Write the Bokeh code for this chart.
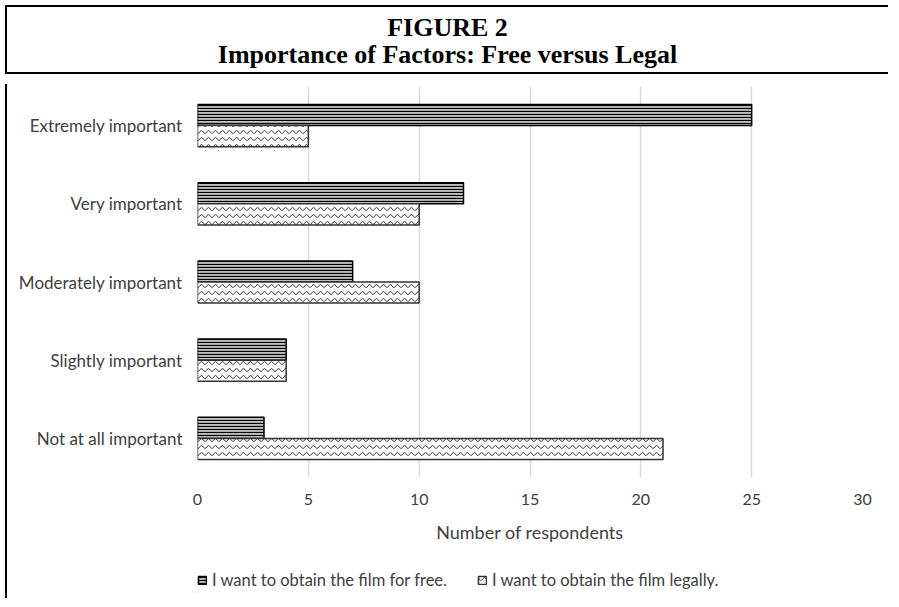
from bokeh.plotting import figure
from bokeh.models import ColumnDataSource, Div, Legend, LegendItem, FactorRange, FixedTicker
from bokeh.transform import dodge
from bokeh.layouts import column, row
from bokeh.embed import file_html
from bokeh.resources import INLINE

categories = ["Extremely important", "Very important", "Moderately important",
              "Slightly important", "Not at all important"]
free_values = [25, 12, 7, 4, 3]
legal_values = [5, 10, 10, 4, 21]
x_ticks = [0, 5, 10, 15, 20, 25, 30]
series_names = ["I want to obtain the film for free.", "I want to obtain the film legally."]
title_lines = ["FIGURE 2", "Importance of Factors: Free versus Legal"]
x_axis_title = "Number of respondents"

factors = list(reversed(categories))
source = ColumnDataSource(dict(cat=categories, free=free_values, legal=legal_values))

LABEL_FONT = "Lato"
LABEL_COLOR = "#404040"

FREE_STYLE = dict(fill_color="#bdbdbd", line_color="#000000", line_width=1.5,
                  hatch_pattern="horizontal_line", hatch_color="#000000", hatch_scale=3.0,
                  hatch_weight=1.2)
LEGAL_STYLE = dict(fill_color="#ffffff", line_color="#333333", line_width=1.5,
                   hatch_pattern="horizontal_wave", hatch_color="#333333", hatch_scale=7,
                   hatch_weight=1)

title_div = Div(
    text="<br>".join(title_lines),
    width=883, height=69,
    styles={
        "box-sizing": "border-box",
        "border-top": "2px solid #000",
        "border-bottom": "2px solid #000",
        "border-left": "2px solid #000",
        "text-align": "center",
        "font-family": "'Liberation Serif', 'Times New Roman', serif",
        "font-weight": "bold",
        "font-size": "26px",
        "line-height": "27px",
        "padding-top": "7px",
        "color": "#000",
    },
)

MAIN_H = 470
LEG_H = 44

p = figure(width=881, height=MAIN_H, y_range=FactorRange(factors=factors), x_range=(0, 30),
           output_backend="svg", toolbar_location=None,
           min_border_left=185, min_border_right=31, min_border_top=7, min_border_bottom=72)

bar_h = 0.27
r_free = p.hbar(y=dodge("cat", bar_h / 2, range=p.y_range), right="free", left=0, height=bar_h,
                source=source, **FREE_STYLE)
r_legal = p.hbar(y=dodge("cat", -bar_h / 2, range=p.y_range), right="legal", left=0, height=bar_h,
                 source=source, **LEGAL_STYLE)

p.outline_line_color = None
p.background_fill_color = "white"
p.border_fill_color = "white"

p.xaxis.ticker = FixedTicker(ticks=x_ticks)
p.xgrid.ticker = FixedTicker(ticks=x_ticks)
p.xgrid.grid_line_color = "#d9d9d9"
p.xgrid.grid_line_width = 1.5
p.ygrid.grid_line_color = None

for ax in (p.xaxis, p.yaxis):
    ax.axis_line_color = None
    ax.major_tick_line_color = None
    ax.minor_tick_line_color = None
    ax.major_tick_out = 0
    ax.major_tick_in = 0
    ax.minor_tick_out = 0
    ax.major_label_text_font = LABEL_FONT
    ax.major_label_text_font_size = "16px"
    ax.major_label_text_color = LABEL_COLOR

p.yaxis.major_label_text_font_size = "17px"
p.yaxis.major_label_standoff = 15
p.xaxis.major_label_standoff = 16
p.xaxis.axis_label = x_axis_title
p.xaxis.axis_label_text_font = LABEL_FONT
p.xaxis.axis_label_text_font_size = "18px"
p.xaxis.axis_label_text_font_style = "normal"
p.xaxis.axis_label_text_color = LABEL_COLOR
p.xaxis.axis_label_standoff = 13

# legend lives in its own small figure so it is not clipped by the main frame
lf = figure(width=881, height=LEG_H, x_range=(0, 1), y_range=(0, 1),
            output_backend="svg", toolbar_location=None, min_border=0)
lf.axis.visible = False
lf.grid.visible = False
lf.outline_line_color = None
lf.background_fill_color = "white"
lf.border_fill_color = "white"
offscreen = ColumnDataSource(dict(y=[-100], left=[-100], right=[-99]))
lr_free = lf.hbar(y="y", right="right", left="left", height=0.5, source=offscreen, **FREE_STYLE)
lr_legal = lf.hbar(y="y", right="right", left="left", height=0.5, source=offscreen, **LEGAL_STYLE)

legend = Legend(items=[LegendItem(label=series_names[0], renderers=[lr_free]),
                       LegendItem(label=series_names[1], renderers=[lr_legal])],
                location=(0, 3), orientation="horizontal")
legend.label_text_font = LABEL_FONT
legend.label_text_font_size = "16.5px"
legend.label_text_color = LABEL_COLOR
legend.glyph_width = 10
legend.glyph_height = 10
legend.label_standoff = 5
legend.spacing = 30
legend.padding = 0
legend.margin = 0
legend.border_line_color = None
legend.background_fill_alpha = 0
lf.add_layout(legend)

left_rule = Div(text="", width=2, height=MAIN_H + LEG_H, styles={"background-color": "#000"})

layout = column(title_div, row(left_rule, column(p, lf, spacing=0), spacing=0), spacing=0)
open("out.html", "w").write(file_html(layout, INLINE))
